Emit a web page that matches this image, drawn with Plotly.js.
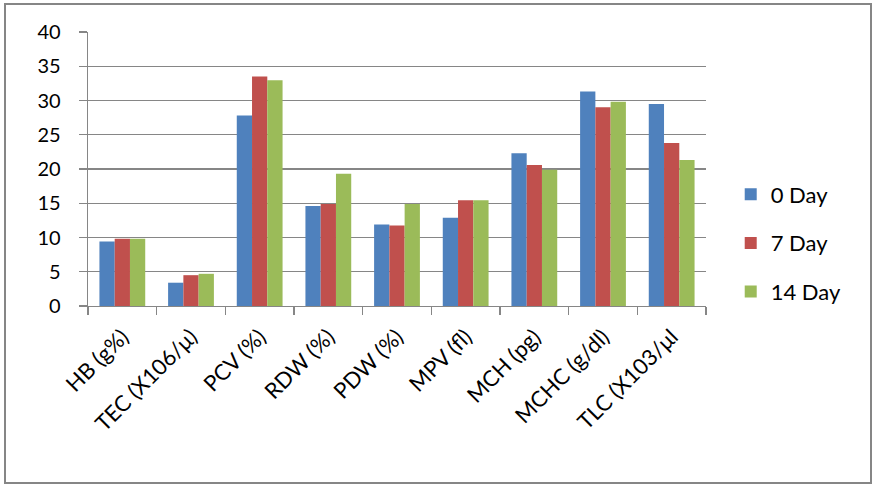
<!DOCTYPE html>
<html>
<head>
<meta charset="utf-8">
<script src="https://cdn.plot.ly/plotly-3.0.1.min.js"></script>
<style>html,body{margin:0;padding:0;background:#fff;}#chart{width:874px;height:486px;}</style>
</head>
<body>
<div id="chart"></div>
<script>
const categories = ["HB (g%)", "TEC (X106/μ)", "PCV (%)", "RDW (%)", "PDW (%)", "MPV (fl)", "MCH (pg)", "MCHC (g/dl)", "TLC (X103/μl"];
const seriesNames = ["0 Day", "7 Day", "14 Day"];
const day0 = [9.4, 3.4, 27.8, 14.6, 11.9, 12.9, 22.3, 31.3, 29.5];
const day7 = [9.8, 4.5, 33.5, 14.9, 11.75, 15.45, 20.6, 29.0, 23.8];
const day14 = [9.8, 4.7, 32.95, 19.3, 14.9, 15.45, 19.9, 29.8, 21.3];
const colors = ["#4F81BD", "#C0504D", "#9BBB59"];
const values = [day0, day7, day14];

const traces = values.map((v, i) => ({
  type: "bar",
  name: seriesNames[i],
  x: categories,
  y: v,
  marker: {color: colors[i], line: {width: 0}},
  legendgroup: "g" + i,
  hoverinfo: "y"
}));

const L = 88, R = 706, T = 32, B = 306;
const pw = R - L, ph = B - T;
function px(p){return (p - L) / pw;}
function py(q){return (B - q) / ph;}

const layout = {
  width: 874, height: 486,
  margin: {l: L, r: 874 - R, t: T, b: 486 - B, pad: 0},
  paper_bgcolor: "#ffffff",
  plot_bgcolor: "#ffffff",
  font: {family: "Lato, 'Open Sans', sans-serif", color: "#000000", size: 20},
  barmode: "group",
  bargap: 0.333,
  bargroupgap: 0,
  showlegend: true,
  legend: {
    x: 1.04, xanchor: "left", y: py(243), yanchor: "middle",
    font: {size: 22, color: "#000"}, bgcolor: "rgba(0,0,0,0)", borderwidth: 0,
    tracegroupgap: 17, traceorder: "grouped"
  },
  xaxis: {
    type: "category",
    tickangle: -45,
    ticks: "outside", tickson: "boundaries", ticklen: 8, tickcolor: "#868686", tickwidth: 1.3,
    showline: true, linecolor: "#868686", linewidth: 1.3,
    showgrid: false, zeroline: false,
    ticklabelstandoff: 8,
    tickfont: {size: 22, color: "#000"}
  },
  yaxis: {
    range: [0, 40], dtick: 5, tick0: 0,
    ticks: "outside", ticklen: 8, tickcolor: "#868686", tickwidth: 1.3,
    showline: true, linecolor: "#868686", linewidth: 1.3,
    showgrid: true, gridcolor: "#868686", gridwidth: 1.3,
    zeroline: false,
    ticklabelstandoff: 14,
    tickfont: {size: 20, color: "#000"}
  },
  shapes: [{
    type: "rect", xref: "paper", yref: "paper",
    x0: px(5), x1: px(871), y0: py(483), y1: py(4),
    line: {color: "#868686", width: 2}, fillcolor: "rgba(0,0,0,0)", layer: "below"
  }]
};

Plotly.newPlot("chart", traces, layout, {displayModeBar: false, staticPlot: true});
</script>
</body>
</html>
